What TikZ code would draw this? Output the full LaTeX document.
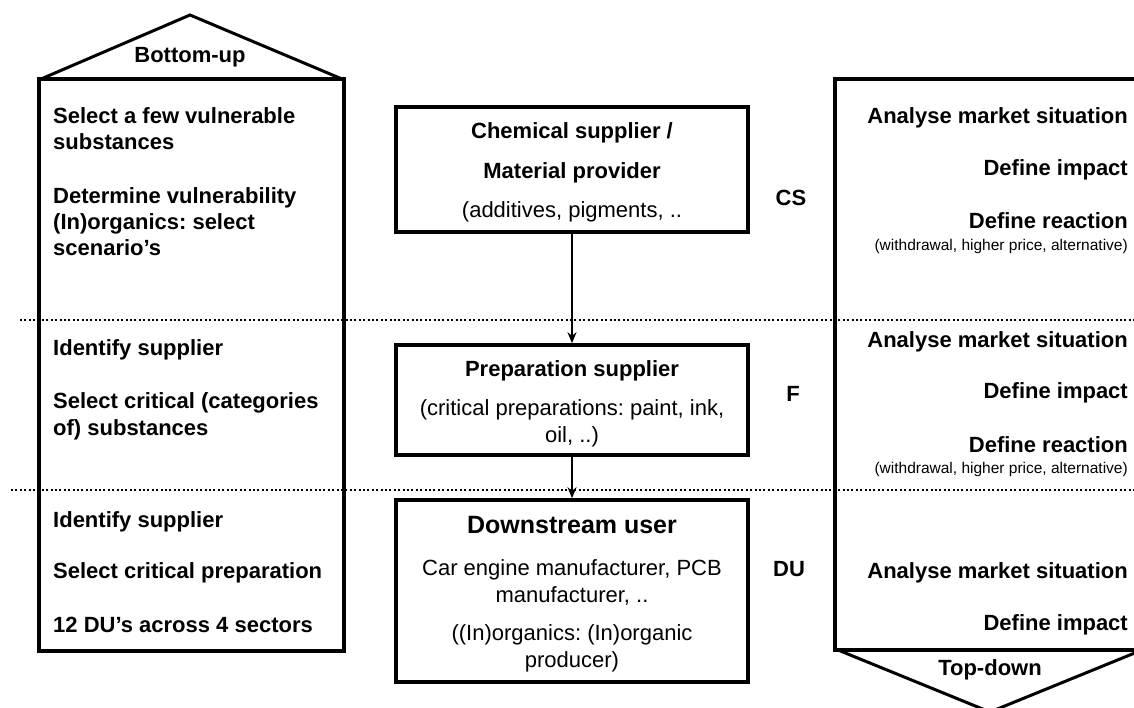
\documentclass[tikz,border=0pt]{standalone}
\usepackage{fontspec}
\setmainfont{Liberation Sans}
\usetikzlibrary{arrows.meta}
\frenchspacing
\begin{document}
\begin{tikzpicture}[x=1pt,y=-1pt,
  lbl/.style={font=\fontsize{22}{26}\selectfont\bfseries, inner sep=0pt},
  big/.style={font=\fontsize{25}{30}\selectfont\bfseries, inner sep=0pt},
  reg/.style={font=\fontsize{22}{26}\selectfont, inner sep=0pt},
  smalltxt/.style={font=\fontsize{15.5}{18}\selectfont, inner sep=0pt},
  boxnode/.style={draw, line width=3.6pt, inner sep=0pt, minimum width=352pt},
  frame/.style={line width=3.4pt, line join=miter},
  roof/.style={line width=3pt, line join=miter},
  conn/.style={line width=2.4pt, -{Stealth[length=11pt,width=9pt]}},
  dots/.style={line width=2.2pt, dash pattern=on 2pt off 2.4pt}]
\path[use as bounding box, clip] (0,0) rectangle (1134,707);

% dotted separators
\draw[dots] (20,320) -- (1134,320);
\draw[dots] (11,490) -- (1134,490);

% left column (bottom-up)
\draw[frame] (39,79) -- (39,651) -- (344,651) -- (344,79) -- cycle;
\draw[roof] (41,79) -- (190,15) -- (342,79);
\node[lbl, anchor=base] (bu) at (190,62) {Bottom-up};
\node[lbl, anchor=base west] (l1) at (53,123) {Select a few vulnerable};
\node[lbl, anchor=base west] (l2) at (53,149) {substances};
\node[lbl, anchor=base west] (l3) at (53,203) {Determine vulnerability};
\node[lbl, anchor=base west] (l4) at (53,229) {(In)organics: select};
\node[lbl, anchor=base west] (l5) at (53,255) {scenario’s};
\node[lbl, anchor=base west] (l6) at (53,355) {Identify supplier};
\node[lbl, anchor=base west] (l7) at (53,408) {Select critical (categories};
\node[lbl, anchor=base west] (l8) at (53,435) {of) substances};
\node[lbl, anchor=base west] (l9) at (53,527) {Identify supplier};
\node[lbl, anchor=base west] (l10) at (53,578) {Select critical preparation};
\node[lbl, anchor=base west] (l11) at (53,632) {12 DU’s across 4 sectors};

% right column (top-down)
\draw[frame] (1140,79) -- (835,79) -- (835,650) -- (1140,650);
\draw[roof] (838,650) -- (990,712) -- (1142,650);
\node[lbl, anchor=base] (td) at (990,675) {Top-down};
\node[lbl, anchor=base east] (r1) at (1128,123) {Analyse market situation};
\node[lbl, anchor=base east] (r2) at (1128,175) {Define impact};
\node[lbl, anchor=base east] (r3) at (1128,228) {Define reaction};
\node[smalltxt, anchor=base east] (r4) at (1128,250) {(withdrawal, higher price, alternative)};
\node[lbl, anchor=base east] (r5) at (1128,347) {Analyse market situation};
\node[lbl, anchor=base east] (r6) at (1128,398) {Define impact};
\node[lbl, anchor=base east] (r7) at (1128,452) {Define reaction};
\node[smalltxt, anchor=base east] (r8) at (1128,473) {(withdrawal, higher price, alternative)};
\node[lbl, anchor=base east] (r9) at (1128,578) {Analyse market situation};
\node[lbl, anchor=base east] (r10) at (1128,630) {Define impact};

% side labels
\node[lbl, anchor=base] (scs) at (791,205) {CS};
\node[lbl, anchor=base] (sf) at (793,401) {F};
\node[lbl, anchor=base] (sdu) at (789,576) {DU};

% central boxes
\node[boxnode, minimum height=125pt] (cs) at (572,169.5) {};
\node[lbl, anchor=base] (cs1) at (572,138) {Chemical supplier /};
\node[lbl, anchor=base] (cs2) at (572,178) {Material provider};
\node[reg, anchor=base] (cs3) at (572,217) {(additives, pigments, ..};

\node[boxnode, minimum height=110pt] (f) at (572,400) {};
\node[lbl, anchor=base] (f1) at (572,376) {Preparation supplier};
\node[reg, anchor=base] (f2) at (572,415) {(critical preparations: paint, ink,};
\node[reg, anchor=base] (f3) at (572,442) {oil, ..)};

\node[boxnode, minimum height=182pt] (du) at (572,591) {};
\node[big, anchor=base] (du1) at (572,533) {Downstream user};
\node[reg, anchor=base] (du2) at (572,575) {Car engine manufacturer, PCB};
\node[reg, anchor=base] (du3) at (572,602) {manufacturer, ..};
\node[reg, anchor=base] (du4) at (572,640) {((In)organics: (In)organic};
\node[reg, anchor=base] (du5) at (572,667) {producer)};

% connectors
\draw[conn] (cs.south) -- (f.north);
\draw[conn] (f.south) -- (du.north);
\end{tikzpicture}
\end{document}
